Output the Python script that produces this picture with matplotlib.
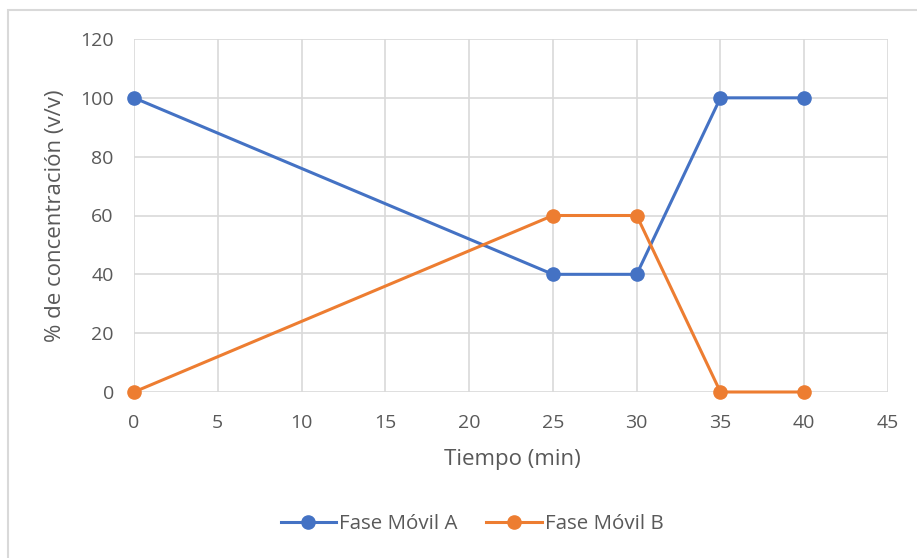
import matplotlib.pyplot as plt
from matplotlib.patches import Rectangle

# data
tiempo = [0, 25, 30, 35, 40]
fase_a = [100, 40, 40, 100, 100]
fase_b = [0, 60, 60, 0, 0]
x_ticks = [0, 5, 10, 15, 20, 25, 30, 35, 40, 45]
y_ticks = [0, 20, 40, 60, 80, 100, 120]

plt.rcParams['font.family'] = ['Open Sans', 'DejaVu Sans']
txt = '#595959'
grid_c = '#d9d9d9'

fig = plt.figure(figsize=(9.17, 5.58), dpi=100)

# light outer chart border (only top/left visible in the crop)
fig.patches.append(Rectangle((8 / 917, -0.05), 1.1, 1 - 10 / 558 + 0.05,
                             transform=fig.transFigure, fill=False,
                             edgecolor=grid_c, linewidth=1.5))

ax = fig.add_axes([134 / 917, 1 - 392 / 558, 754 / 917, 353 / 558])

ax.plot(tiempo, fase_a, color='#4472C4', lw=2.2, marker='o', ms=9.5,
        label='Fase Móvil A', clip_on=False, zorder=3)
ax.plot(tiempo, fase_b, color='#ED7D31', lw=2.2, marker='o', ms=9.5,
        label='Fase Móvil B', clip_on=False, zorder=3)

ax.set_xlim(0, 45)
ax.set_ylim(0, 120)
ax.set_xticks(x_ticks)
ax.set_yticks(y_ticks)
ax.grid(True, color=grid_c, lw=1.2)
ax.set_axisbelow(True)
for s in ax.spines.values():
    s.set_visible(False)
ax.tick_params(length=0, labelsize=14, labelcolor=txt)
ax.tick_params(axis='x', pad=15.5)
ax.tick_params(axis='y', pad=14.5)

ax.set_xlabel('Tiempo (min)', fontsize=16, color=txt, va='center')
ax.set_ylabel('% de concentración (v/v)', fontsize=16, color=txt, va='center')
ax.xaxis.set_label_coords(0.5 * 754 / 754 - 0.0, (392 - 460) / 353)
ax.xaxis.label.set_x((512 - 134) / 754)
ax.yaxis.set_label_coords((56 - 134) / 754, 0.5)

fig.legend(loc='center', bbox_to_anchor=(472 / 917, 1 - 524 / 558), ncol=2,
           frameon=False, fontsize=14.75, labelcolor=txt, handlelength=2.7,
           columnspacing=1.4, handletextpad=0.15)

fig.savefig('out.png', dpi=100)
